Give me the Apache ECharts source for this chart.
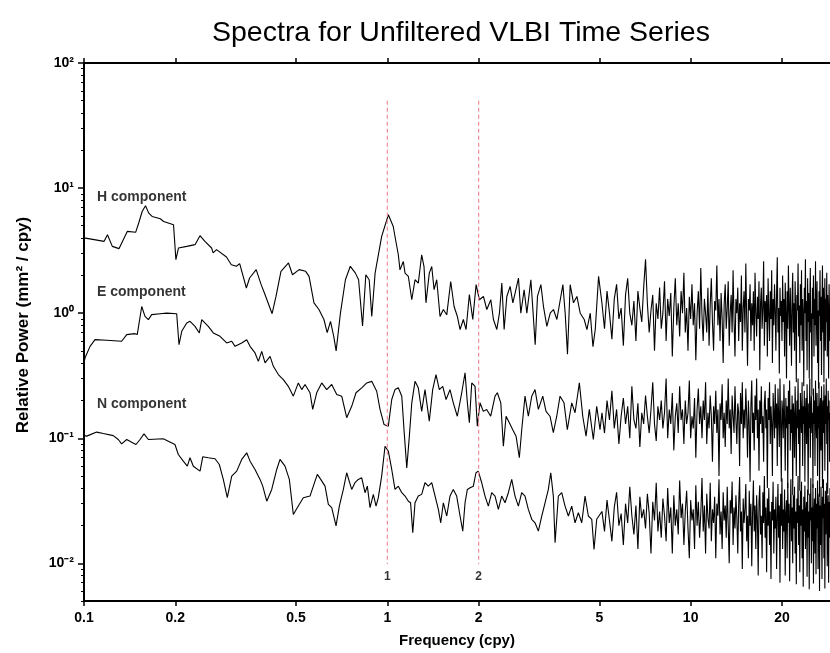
<!DOCTYPE html>
<html><head><meta charset="utf-8">
<script src="https://cdn.jsdelivr.net/npm/echarts@6/dist/echarts.min.js"></script>
<style>html,body{margin:0;padding:0;background:#fff}#c{width:830px;height:653px}</style>
</head><body><div id="c"></div>
<script>
// ---------- axis ticks ----------
const xTickValues = [0.1, 0.2, 0.5, 1, 2, 5, 10, 20];
const xTickLabels = ['0.1', '0.2', '0.5', '1', '2', '5', '10', '20'];
const yTickValues = [0.01, 0.1, 1, 10, 100];
const yTickLabels = ['10\u207B\u00B2', '10\u207B\u00B9', '10\u2070', '10\u00B9', '10\u00B2'];
const xRange = [0.1, 28.8];
const yRange = [0.005, 100];

// ---------- reference frequencies (dashed lines) ----------
const refFreqs = [1, 2];
const refLabels = ['1', '2'];
const refSpan = [50, 0.0099];
const refLabelPower = 0.0078;

// ---------- component labels ----------
const compNames = ['H component', 'E component', 'N component'];
const compLabelFreq = 0.1104;
const compLabelPower = [8.5, 1.46, 0.189];

// ---------- H component, low frequencies ----------
const hLowFreq = [0.100,0.108,0.1165,0.1195,0.124,0.1304,0.139,0.148,0.1516,0.1555,0.1595,0.1635,0.1677,0.1785,0.183,0.1973,0.2009,0.2049,0.2182,0.2323,
0.2412,0.2504,0.2634,0.2666,0.2735,0.2949,0.306,0.318,0.326,0.343,0.3515,0.3695,0.3837,0.3934,0.417,0.4295,0.446,0.4723,0.4868,0.512,
0.538,0.552,0.573,0.595,0.618,0.6335,0.6497,0.666,0.678,0.7005,0.7275,0.755,0.784,0.804,0.8285,0.8495,0.8714,0.8886,0.9116,0.958,
1.008,1.046,1.06,1.087,1.101,1.129,1.144,1.173,1.204,1.234,1.265,1.298,1.321,1.341,1.375,1.401,1.426,1.455,1.492,1.530,
1.570,1.618,1.660,1.702,1.737,1.781,1.818,1.864,1.913,1.962,2.012,2.074,2.128,2.194,2.238,2.296,2.342,2.385,2.427,2.477,
2.540,2.593,2.639,2.706,2.755,2.825,2.884,2.973,3.019,3.072,3.126,3.208,3.272,3.357,3.443,3.530,3.622,3.791,3.858,3.926,
4.007,4.109,4.217,4.324,4.458,4.550,4.666,4.763,4.847,4.971];
const hLowPower = [4.0,3.87,3.75,4.24,3.42,3.28,4.51,4.43,5.28,6.5,7.22,6.31,5.93,5.69,5.41,5.09,2.68,3.32,3.42,3.53,
4.16,3.75,3.32,3.03,3.22,2.81,2.44,2.37,2.49,1.59,1.91,2.23,1.69,1.45,0.99,1.36,2.16,2.52,2.03,2.23,
2.16,1.97,1.21,1.07,0.89,0.70,0.86,0.65,0.50,1.0,1.85,2.37,2.10,1.85,0.79,2.03,1.85,0.94,2.10,4.11,
6.12,4.93,4.1,2.93,2.22,2.59,2.09,1.97,1.28,1.85,1.74,2.93,2.36,1.21,2.09,2.36,1.54,1.85,0.94,1.07,
0.97,1.79,1.13,0.94,0.74,0.89,0.74,1.41,0.89,1.69,1.28,1.36,1.07,1.28,0.89,0.74,1.0,1.74,0.74,1.36,
1.64,1.21,1.45,1.91,1.0,1.54,1.0,1.85,1.07,0.56,1.36,1.69,1.13,0.785,1.0,1.07,0.89,1.69,1.0,0.47,
1.69,1.21,1.36,1.0,0.89,0.74,1.0,0.54,0.74,1.97];

// ---------- E component, low frequencies ----------
const eLowFreq = [0.100,0.1008,0.1047,0.1087,0.1188,0.1331,0.1383,0.1473,0.1498,0.155,0.1589,0.163,0.1672,0.1781,0.1874,0.2021,0.2057,0.21,0.2181,0.2236,
0.2323,0.24,0.2444,0.2569,0.2669,0.2808,0.2954,0.3069,0.3147,0.3311,0.3439,0.3527,0.3663,0.3756,0.3854,0.3953,0.4106,0.421,0.4372,0.4541,
0.4716,0.4899,0.5088,0.5222,0.5354,0.556,0.5675,0.585,0.6077,0.6312,0.6556,0.6811,0.7074,0.7346,0.763,0.7884,0.8234,0.8553,0.8884,0.9226,
0.9461,0.975,1.0076,1.034,1.06,1.087,1.116,1.135,1.159,1.182,1.204,1.234,1.265,1.298,1.331,1.375,1.411,1.447,1.484,1.523,
1.562,1.609,1.65,1.701,1.759,1.804,1.836,1.864,1.898,1.946,1.98,2.021,2.072,2.126,2.192,2.265,2.305,2.366,2.413,2.463,
2.525,2.591,2.657,2.724,2.774,2.844,2.917,2.993,3.069,3.147,3.254,3.336,3.438,3.526,3.618,3.71,3.824,3.921,4.055,4.158,
4.296,4.408,4.52,4.634,4.777,4.901,5.026];
const eLowPower = [0.40,0.44,0.543,0.614,0.607,0.596,0.674,0.686,0.674,1.13,0.943,0.888,0.973,0.99,1.0,0.99,0.56,0.716,0.835,0.86,
0.784,0.695,0.888,0.784,0.695,0.653,0.578,0.596,0.543,0.578,0.614,0.543,0.481,0.412,0.495,0.40,0.452,0.376,0.323,0.294,
0.26,0.217,0.277,0.245,0.269,0.231,0.17,0.231,0.277,0.245,0.269,0.224,0.217,0.146,0.18,0.231,0.253,0.277,0.285,0.2375,
0.17,0.129,0.125,0.204,0.245,0.253,0.217,0.117,0.058,0.104,0.192,0.285,0.253,0.164,0.245,0.137,0.245,0.323,0.245,0.26,
0.204,0.245,0.192,0.15,0.231,0.333,0.192,0.133,0.277,0.26,0.125,0.192,0.164,0.17,0.15,0.217,0.231,0.192,0.0864,0.15,
0.133,0.117,0.104,0.0698,0.117,0.217,0.15,0.217,0.245,0.17,0.217,0.164,0.15,0.111,0.15,0.217,0.192,0.117,0.192,0.16,
0.277,0.15,0.104,0.17,0.0977,0.18,0.117];

// ---------- N component, low frequencies ----------
const nLowFreq = [0.100,0.1021,0.1101,0.1158,0.1249,0.1297,0.1331,0.1383,0.1436,0.1484,0.153,0.1577,0.163,0.1826,0.1896,0.1995,0.2046,0.2125,0.2191,0.2236,
0.2293,0.2413,0.2463,0.2569,0.2703,0.2793,0.2879,0.2968,0.3069,0.3188,0.3311,0.3439,0.3527,0.3663,0.3805,0.3884,0.4004,0.4158,0.4319,0.4428,
0.4599,0.4753,0.4899,0.5088,0.5284,0.556,0.5702,0.5878,0.6032,0.6232,0.6391,0.6556,0.6775,0.6947,0.7161,0.7346,0.763,0.7823,0.8022,0.8234,
0.8443,0.8592,0.877,0.8993,0.9179,0.9338,0.958,0.9827,1.0076,1.034,1.06,1.087,1.116,1.144,1.173,1.193,1.213,1.234,1.265,1.298,
1.331,1.365,1.401,1.437,1.473,1.5,1.53,1.57,1.609,1.65,1.693,1.737,1.773,1.804,1.836,1.874,1.921,1.96,1.995,2.047,
2.099,2.153,2.209,2.265,2.323,2.383,2.444,2.506,2.571,2.636,2.704,2.774,2.844,2.917,2.993,3.069,3.147,3.229,3.311,3.395,
3.458,3.526,3.573,3.663,3.758,3.854,3.952,4.055,4.158,4.264,4.375,4.486,4.6,4.72,4.803,4.901];
const nLowPower = [0.105,0.104,0.112,0.109,0.105,0.0977,0.0903,0.0977,0.093,0.0891,0.0977,0.1085,0.0977,0.099,0.0947,0.0891,0.0742,0.0656,0.0598,0.0698,
0.0598,0.0546,0.0711,0.0698,0.0686,0.0617,0.0469,0.0335,0.0498,0.0546,0.0677,0.0765,0.0656,0.0563,0.0469,0.0414,0.0314,0.039,0.0563,0.0677,
0.0598,0.0469,0.0246,0.0287,0.0335,0.0345,0.0414,0.0514,0.0469,0.0414,0.0296,0.0279,0.0199,0.0287,0.039,0.053,0.039,0.0441,0.0469,0.0483,
0.0367,0.0414,0.0279,0.0356,0.0287,0.0335,0.0498,0.0864,0.0788,0.0563,0.039,0.0414,0.0367,0.0345,0.0314,0.0305,0.0176,0.0305,0.0345,0.0356,
0.0441,0.0414,0.0441,0.0345,0.027,0.0211,0.0305,0.0239,0.0345,0.039,0.0345,0.0239,0.0181,0.0305,0.039,0.0402,0.0414,0.053,0.0546,0.0441,
0.0345,0.0287,0.0367,0.0345,0.027,0.0345,0.0305,0.0367,0.0469,0.0345,0.0287,0.0367,0.0345,0.027,0.0225,0.0211,0.0181,0.0239,0.0305,0.039,
0.053,0.0345,0.0146,0.0345,0.0367,0.0287,0.0239,0.0287,0.0211,0.0254,0.0211,0.0345,0.0239,0.0225,0.0129,0.0225];

// ---------- high frequencies (shared grid, 5.1 .. 28.8 cpy) ----------
const highFreq = [5.1,5.2,5.3,5.4,5.5,5.6,5.7,5.8,5.9,6.0,
6.1,6.2,6.3,6.4,6.5,6.6,6.7,6.8,6.9,7.0,
7.1,7.2,7.3,7.4,7.5,7.6,7.7,7.8,7.9,8.0,
8.1,8.2,8.3,8.4,8.5,8.6,8.7,8.8,8.9,9.0,
9.1,9.2,9.3,9.4,9.5,9.6,9.7,9.8,9.9,10.0,
10.1,10.2,10.3,10.4,10.5,10.6,10.7,10.8,10.9,11.0,
11.1,11.2,11.3,11.4,11.5,11.6,11.7,11.8,11.9,12.0,
12.1,12.2,12.3,12.4,12.5,12.6,12.7,12.8,12.9,13.0,
13.1,13.2,13.3,13.4,13.5,13.6,13.7,13.8,13.9,14.0,
14.1,14.2,14.3,14.4,14.5,14.6,14.7,14.8,14.9,15.0,
15.1,15.2,15.3,15.4,15.5,15.6,15.7,15.8,15.9,16.0,
16.1,16.2,16.3,16.4,16.5,16.6,16.7,16.8,16.9,17.0,
17.1,17.2,17.3,17.4,17.5,17.6,17.7,17.8,17.9,18.0,
18.1,18.2,18.3,18.4,18.5,18.6,18.7,18.8,18.9,19.0,
19.1,19.2,19.3,19.4,19.5,19.6,19.7,19.8,19.9,20.0,
20.1,20.2,20.3,20.4,20.5,20.6,20.7,20.8,20.9,21.0,
21.1,21.2,21.3,21.4,21.5,21.6,21.7,21.8,21.9,22.0,
22.1,22.2,22.3,22.4,22.5,22.6,22.7,22.8,22.9,23.0,
23.1,23.2,23.3,23.4,23.5,23.6,23.7,23.8,23.9,24.0,
24.1,24.2,24.3,24.4,24.5,24.6,24.7,24.8,24.9,25.0,
25.1,25.2,25.3,25.4,25.5,25.6,25.7,25.8,25.9,26.0,
26.1,26.2,26.3,26.4,26.5,26.6,26.7,26.8,26.9,27.0,
27.1,27.2,27.3,27.4,27.5,27.6,27.7,27.8,27.9,28.0,
28.1,28.2,28.3,28.4,28.5,28.6,28.7,28.8];

const hHighPower = [1.2,0.75,1.5,1.0,0.62,1.3,1.7,0.9,1.1,0.55,
1.4,1.9,1.0,0.8,1.25,0.6,1.5,1.1,0.85,1.6,
2.7,1.2,0.7,1.05,1.4,0.5,1.2,0.9,1.6,0.75,
1.0,1.8,0.6,1.3,0.95,1.45,0.45,1.1,1.9,0.8,
1.2,0.65,1.5,1.0,2.1,0.7,1.1,0.5,1.35,0.9,
1.7,0.8,1.2,0.42,1.0,1.5,0.75,2.3,0.95,0.6,
1.3,1.0,0.7,1.6,0.55,1.15,1.9,0.85,0.5,1.25,
1.05,2.4,0.8,1.3,0.6,1.45,0.9,0.4,1.2,1.7,
0.75,1.1,1.8,0.55,1.0,1.4,0.7,2.2,0.9,0.45,
1.3,1.0,1.6,0.6,1.2,0.85,2.0,0.5,1.1,1.5,
0.7,2.5,0.9,0.38,1.3,1.05,1.7,0.6,1.2,0.8,
1.5,0.5,2.1,1.0,0.65,1.35,0.9,1.8,0.35,1.2,
1.6,0.75,1.1,2.6,0.55,1.25,0.85,1.4,0.45,1.9,
1.0,0.6,1.5,0.9,2.2,0.4,1.3,0.8,1.7,1.05,
0.5,1.45,2.8,0.7,1.1,0.33,1.6,0.95,1.25,0.6,
2.0,0.85,1.3,0.45,1.75,1.0,0.3,1.5,0.75,2.4,
1.1,0.55,1.6,0.9,0.38,1.35,2.1,0.7,1.2,0.5,
1.8,0.95,0.28,1.4,1.05,2.5,0.65,1.15,0.4,1.7,
0.8,2.2,0.5,1.3,0.95,0.26,1.6,1.0,2.7,0.6,
1.25,0.35,1.9,0.85,1.45,0.3,1.1,2.3,0.7,1.0,
0.22,1.6,0.9,2.0,0.45,1.3,0.8,2.6,0.55,1.15,
1.8,0.4,1.05,0.25,1.5,0.95,2.2,0.6,1.35,0.32,
1.2,2.4,0.7,1.6,0.28,1.0,1.9,0.5,1.3,0.85,
2.1,0.45,1.4,0.9,0.3,1.7,1.0,0.6];

const eHighPower = [0.16,0.11,0.2,0.14,0.24,0.12,0.17,0.09,0.15,0.21,
0.13,0.18,0.1,0.26,0.14,0.12,0.19,0.085,0.16,0.13,
0.22,0.15,0.11,0.17,0.28,0.13,0.095,0.18,0.14,0.2,
0.12,0.16,0.3,0.1,0.17,0.13,0.23,0.08,0.15,0.19,
0.11,0.26,0.14,0.17,0.09,0.2,0.13,0.16,0.29,0.1,
0.15,0.12,0.21,0.07,0.17,0.25,0.13,0.18,0.1,0.2,
0.14,0.28,0.09,0.16,0.12,0.22,0.15,0.065,0.18,0.13,
0.24,0.11,0.17,0.05,0.19,0.14,0.27,0.1,0.16,0.085,
0.2,0.13,0.3,0.12,0.17,0.075,0.22,0.15,0.11,0.26,
0.14,0.09,0.19,0.16,0.06,0.23,0.13,0.28,0.1,0.17,
0.12,0.25,0.15,0.07,0.2,0.13,0.045,0.18,0.29,0.11,
0.16,0.08,0.22,0.14,0.3,0.1,0.17,0.055,0.2,0.13,
0.26,0.11,0.15,0.065,0.19,0.24,0.12,0.17,0.04,0.21,
0.14,0.28,0.09,0.18,0.13,0.05,0.23,0.16,0.1,0.27,
0.12,0.19,0.06,0.25,0.15,0.085,0.3,0.13,0.045,0.2,
0.16,0.1,0.27,0.14,0.055,0.21,0.12,0.18,0.04,0.24,
0.13,0.29,0.08,0.17,0.11,0.22,0.035,0.19,0.15,0.07,
0.26,0.14,0.05,0.2,0.12,0.3,0.09,0.17,0.038,0.23,
0.15,0.11,0.28,0.06,0.18,0.13,0.24,0.045,0.16,0.21,
0.09,0.27,0.14,0.035,0.19,0.12,0.3,0.07,0.17,0.22,
0.11,0.16,0.04,0.25,0.13,0.2,0.06,0.29,0.15,0.1,
0.23,0.05,0.18,0.12,0.28,0.034,0.16,0.21,0.08,0.26,
0.14,0.04,0.2,0.11,0.27,0.17,0.055,0.22,0.13,0.3,
0.09,0.18,0.036,0.24,0.14,0.2,0.065,0.16];

const nHighPower = [0.026,0.018,0.032,0.022,0.015,0.028,0.037,0.02,0.025,0.014,
0.03,0.021,0.041,0.024,0.017,0.029,0.013,0.034,0.023,0.027,
0.019,0.036,0.025,0.012,0.031,0.022,0.044,0.018,0.026,0.016,
0.033,0.024,0.015,0.04,0.021,0.028,0.012,0.035,0.02,0.027,
0.017,0.046,0.023,0.03,0.014,0.026,0.038,0.019,0.011,0.032,
0.022,0.027,0.013,0.042,0.02,0.031,0.016,0.025,0.048,0.018,
0.029,0.012,0.036,0.023,0.019,0.044,0.015,0.027,0.021,0.034,
0.011,0.03,0.024,0.047,0.017,0.026,0.013,0.037,0.022,0.029,
0.016,0.041,0.02,0.01,0.032,0.025,0.045,0.014,0.028,0.019,
0.035,0.023,0.012,0.03,0.049,0.018,0.026,0.009,0.033,0.021,
0.027,0.043,0.015,0.024,0.011,0.038,0.02,0.03,0.0095,0.025,
0.046,0.018,0.029,0.013,0.035,0.022,0.008,0.031,0.042,0.017,
0.024,0.011,0.037,0.021,0.05,0.016,0.028,0.0085,0.033,0.02,
0.04,0.014,0.026,0.0075,0.031,0.022,0.045,0.012,0.027,0.019,
0.034,0.009,0.023,0.043,0.016,0.029,0.007,0.036,0.02,0.048,
0.013,0.027,0.018,0.039,0.008,0.025,0.032,0.011,0.044,0.021,
0.03,0.0072,0.024,0.047,0.015,0.028,0.01,0.035,0.019,0.041,
0.012,0.026,0.0068,0.033,0.021,0.05,0.014,0.029,0.0085,0.038,
0.02,0.045,0.011,0.027,0.0065,0.034,0.018,0.042,0.013,0.025,
0.031,0.0078,0.039,0.016,0.026,0.0062,0.036,0.022,0.048,0.01,
0.028,0.015,0.043,0.0069,0.024,0.033,0.012,0.04,0.0082,0.03,
0.019,0.046,0.009,0.026,0.036,0.006,0.029,0.014,0.041,0.021,
0.0075,0.034,0.023,0.047,0.011,0.03,0.0063,0.038,0.017,0.027,
0.044,0.0095,0.025,0.035,0.007,0.031,0.016,0.04];

// ---------- build ----------
function pairs(fs, ps) {
  const out = [];
  const n = Math.min(fs.length, ps.length);
  for (let i = 0; i < n; i++) out.push([fs[i], ps[i]]);
  return out;
}
const hData = pairs(hLowFreq, hLowPower).concat(pairs(highFreq, hHighPower));
const eData = pairs(eLowFreq, eLowPower).concat(pairs(highFreq, eHighPower));
const nData = pairs(nLowFreq, nLowPower).concat(pairs(highFreq, nHighPower));

const FONT = '"Liberation Sans", Arial, Helvetica, sans-serif';
const lx = v => Math.log10(v);
const xTickPos = xTickValues.map(lx);
const yTickPos = yTickValues.map(lx);
const yMinorPos = [];
for (let e = -3; e <= 1; e++) {
  for (let k = 2; k <= 9; k++) {
    const v = k * Math.pow(10, e);
    if (v >= yRange[0] - 1e-12 && v <= yRange[1]) yMinorPos.push(lx(v));
  }
}
function nearestLabel(v, pos, labels) {
  let bi = 0, bd = Infinity;
  pos.forEach((p, i) => { const d = Math.abs(p - v); if (d < bd) { bd = d; bi = i; } });
  return labels[bi];
}

const lineStyleBlack = { color: '#000', width: 1.1 };
const series = [];
[hData, eData, nData].forEach((d, i) => {
  series.push({
    type: 'line', name: compNames[i], data: d, xAxisIndex: 0, yAxisIndex: 0,
    showSymbol: false, symbol: 'none', lineStyle: lineStyleBlack, itemStyle: { color: '#000' },
    z: 3, animation: false
  });
});
refFreqs.forEach((f, i) => {
  series.push({
    type: 'line', data: [[f, refSpan[0]], [f, refSpan[1]]], xAxisIndex: 0, yAxisIndex: 0,
    showSymbol: false, symbol: 'none', z: 4,
    lineStyle: { color: '#ef8c98', width: 1.2, type: [4, 3] }, animation: false
  });
});
series.push({
  type: 'scatter', xAxisIndex: 0, yAxisIndex: 0, symbolSize: 0, z: 5, animation: false,
  data: refFreqs.map((f, i) => ({ value: [f, refLabelPower], name: refLabels[i] })),
  label: { show: true, position: 'inside', formatter: p => p.name, color: '#000',
           fontFamily: FONT, fontWeight: 'bold', fontSize: 12 }
});
series.push({
  type: 'scatter', xAxisIndex: 0, yAxisIndex: 0, symbolSize: 0, z: 5, animation: false,
  data: compNames.map((nm, i) => ({ value: [compLabelFreq, compLabelPower[i]], name: nm })),
  label: { show: true, position: 'inside', align: 'left', formatter: p => p.name, color: '#000',
           fontFamily: FONT, fontWeight: 'bold', fontSize: 14 }
});

const noZeroLine = (show, width) => ({ show: show, onZero: false, lineStyle: { color: '#000', width: width } });

const chart = echarts.init(document.getElementById('c'), null, { renderer: 'canvas' });
chart.setOption({
  backgroundColor: '#fff',
  animation: false,
  title: {
    text: 'Spectra for Unfiltered VLBI Time Series', left: 207, top: 14,
    textStyle: { fontFamily: FONT, fontWeight: 'normal', fontSize: 28.5, color: '#000' }
  },
  grid: { left: 84, right: 0, top: 63, bottom: 51, containLabel: false },
  xAxis: [
    { type: 'log', logBase: 10, min: xRange[0], max: xRange[1], position: 'bottom',
      name: 'Frequency (cpy)', nameLocation: 'middle', nameGap: 32,
      nameTextStyle: { fontFamily: FONT, fontWeight: 'bold', fontSize: 15, color: '#000' },
      axisLine: noZeroLine(true, 2),
      axisTick: { show: false }, axisLabel: { show: false }, splitLine: { show: false }, minorTick: { show: false } },
    { type: 'value', min: lx(xRange[0]), max: lx(xRange[1]), position: 'bottom',
      axisLine: noZeroLine(false, 0),
      axisTick: { show: true, length: 5, customValues: xTickPos, lineStyle: { color: '#000', width: 1.5 } },
      axisLabel: { show: true, customValues: xTickPos, margin: 10, formatter: v => nearestLabel(v, xTickPos, xTickLabels),
                   fontFamily: FONT, fontWeight: 'bold', fontSize: 14, color: '#000' },
      splitLine: { show: false } },
    { type: 'value', min: lx(xRange[0]), max: lx(xRange[1]), position: 'top',
      axisLine: noZeroLine(true, 2),
      axisTick: { show: true, length: 5, customValues: xTickPos, lineStyle: { color: '#000', width: 1.5 } },
      axisLabel: { show: false }, splitLine: { show: false } }
  ],
  yAxis: [
    { type: 'log', logBase: 10, min: yRange[0], max: yRange[1], position: 'left',
      name: 'Relative Power (mm\u00B2 / cpy)', nameLocation: 'middle', nameGap: 52,
      nameTextStyle: { fontFamily: FONT, fontWeight: 'bold', fontSize: 17, color: '#000', padding: [0, 0, 0, 14] },
      axisLine: noZeroLine(true, 2),
      axisTick: { show: false }, axisLabel: { show: false }, splitLine: { show: false }, minorTick: { show: false } },
    { type: 'value', min: lx(yRange[0]), max: lx(yRange[1]), position: 'left',
      axisLine: noZeroLine(false, 0),
      axisTick: { show: true, length: 6, customValues: yTickPos, lineStyle: { color: '#000', width: 1.5 } },
      axisLabel: { show: true, customValues: yTickPos, margin: 10, formatter: v => nearestLabel(v, yTickPos, yTickLabels),
                   fontFamily: FONT, fontWeight: 'bold', fontSize: 14, color: '#000' },
      splitLine: { show: false } },
    { type: 'value', min: lx(yRange[0]), max: lx(yRange[1]), position: 'left',
      axisLine: noZeroLine(false, 0),
      axisTick: { show: true, length: 3, customValues: yMinorPos, lineStyle: { color: '#000', width: 1 } },
      axisLabel: { show: false }, splitLine: { show: false } }
  ],
  series: series
});
</script>
</body></html>
